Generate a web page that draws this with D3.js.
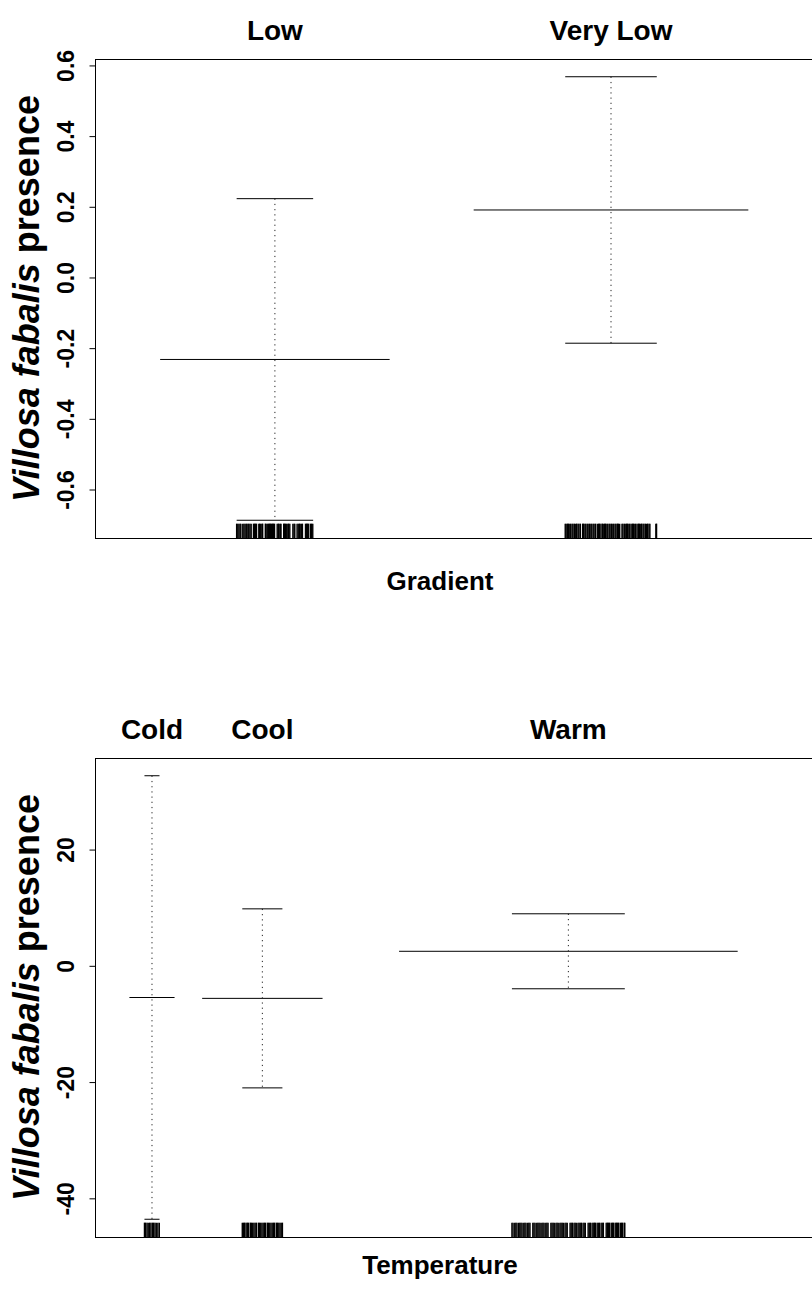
<!DOCTYPE html>
<html>
<head>
<meta charset="utf-8">
<script src="https://cdn.jsdelivr.net/npm/d3@7"></script>
<style>
  html, body { margin: 0; padding: 0; background: #fff; }
  svg { display: block; font-family: "Liberation Sans", Arial, Helvetica, sans-serif; }
</style>
</head>
<body>
<svg id="chart" width="812" height="1293"></svg>
<script>
// ---------- Data ----------
// Panel 1: Gradient
const gradLevels = ["Low", "Very Low"];
const gradCounts = [61, 73];
const gradFit = [-0.232, 0.191];
const gradSE2 = [0.455, 0.377];           // 2 * standard error
const gradTicks = [-0.6, -0.4, -0.2, 0.0, 0.2, 0.4, 0.6];
const gradTickLabels = ["-0.6", "-0.4", "-0.2", "0.0", "0.2", "0.4", "0.6"];
const gradRugLow = [-1.00,-0.97,-0.94,-0.91,-0.89,-0.84,-0.81,-0.78,-0.75,-0.73,-0.70,-0.68,-0.65,-0.62,-0.56,-0.53,-0.51,-0.48,-0.42,-0.40,-0.37,-0.34,-0.32,-0.25,-0.23,-0.20,-0.17,-0.14,-0.12,-0.09,-0.06,-0.04,-0.01,0.06,0.09,0.11,0.14,0.16,0.23,0.25,0.28,0.31,0.34,0.36,0.39,0.47,0.50,0.52,0.58,0.61,0.64,0.66,0.69,0.72,0.80,0.83,0.85,0.88,0.93,0.96,0.99];
const gradRugVeryLow = [-1.00,-0.98,-0.95,-0.93,-0.90,-0.88,-0.85,-0.83,-0.80,-0.77,-0.75,-0.72,-0.70,-0.67,-0.62,-0.60,-0.57,-0.55,-0.52,-0.50,-0.47,-0.44,-0.42,-0.39,-0.37,-0.34,-0.30,-0.27,-0.25,-0.22,-0.19,-0.17,-0.14,-0.12,-0.09,-0.07,-0.04,-0.02,0.01,0.04,0.06,0.09,0.11,0.14,0.16,0.19,0.24,0.26,0.29,0.31,0.34,0.36,0.39,0.41,0.44,0.47,0.49,0.52,0.54,0.57,0.60,0.62,0.65,0.67,0.70,0.72,0.75,0.78,0.80,0.83,0.85,0.98,0.995];

// Panel 2: Temperature
const tempLevels = ["Cold", "Cool", "Warm"];
const tempCounts = [12, 32, 90];
const tempFit = [-5.45, -5.6, 2.5];
const tempSE2 = [38.15, 15.4, 6.45];
const tempTicks = [-40, -20, 0, 20];
const tempTickLabels = ["-40", "-20", "0", "20"];
const tempRugCold = [-1.0,-0.85,-0.66,-0.5,-0.31,-0.14,0.05,0.22,0.4,0.57,0.78,0.97];
const tempRugCool = [-1.0,-0.94,-0.88,-0.81,-0.75,-0.69,-0.6,-0.54,-0.48,-0.42,-0.36,-0.3,-0.2,-0.14,-0.08,-0.02,0.04,0.1,0.16,0.25,0.31,0.37,0.43,0.49,0.55,0.61,0.7,0.76,0.82,0.88,0.94,1.0];
const tempRugWarm = [-1.00,-0.98,-0.95,-0.93,-0.91,-0.88,-0.86,-0.84,-0.82,-0.79,-0.77,-0.75,-0.72,-0.70,-0.68,-0.63,-0.61,-0.59,-0.56,-0.54,-0.52,-0.50,-0.47,-0.45,-0.43,-0.40,-0.38,-0.36,-0.31,-0.29,-0.27,-0.25,-0.22,-0.20,-0.18,-0.15,-0.13,-0.11,-0.09,-0.06,-0.04,-0.02,0.03,0.05,0.07,0.10,0.12,0.14,0.17,0.19,0.21,0.23,0.26,0.28,0.30,0.35,0.37,0.39,0.42,0.44,0.46,0.48,0.51,0.53,0.55,0.58,0.60,0.62,0.67,0.69,0.71,0.73,0.76,0.78,0.80,0.83,0.85,0.87,0.89,0.92,0.94,0.96,0.99,1.00];

const yTitleItalic = "Villosa fabalis";
const yTitleRest = " presence";

// ---------- Drawing ----------
const svg = d3.select("#chart");

function panel(opt) {
  const { levels, counts, fit, se2, ticks, tickLabels, rugs, xlab, top, bottom, xlabGap } = opt;
  const left = 95, right = 821;
  const N = d3.sum(counts);
  const x = d3.scaleLinear().domain([-0.04 * N, 1.04 * N]).range([left, right]);
  const lo = d3.min(fit.map((f, i) => f - se2[i]));
  const hi = d3.max(fit.map((f, i) => f + se2[i]));
  const pad = (hi - lo) * 0.04;
  const y = d3.scaleLinear().domain([lo - pad, hi + pad]).range([bottom, top]);

  const rightx = d3.cumsum(counts);
  const leftx = counts.map((c, i) => rightx[i] - c);
  const ux = counts.map((c, i) => (leftx[i] + rightx[i]) / 2);

  const g = svg.append("g");

  // box
  g.append("rect")
    .attr("x", left + 0.5).attr("y", top + 0.5)
    .attr("width", right - left).attr("height", bottom - top)
    .attr("fill", "none").attr("stroke", "#000").attr("stroke-width", 1);

  // y axis
  const axis = d3.axisLeft(y).tickValues(ticks).tickFormat((d, i) => tickLabels[i]).tickSize(6).tickSizeOuter(0);
  const ag = g.append("g").attr("transform", `translate(${left + 0.5},0)`).call(axis);
  ag.select(".domain").attr("stroke", "#000")
    .attr("d", `M0,${y(ticks[0])}V${y(ticks[ticks.length - 1])}`);
  ag.selectAll(".tick line").attr("stroke", "#000");
  ag.selectAll(".tick text")
    .attr("x", null).attr("dy", null)
    .attr("transform", "translate(-22,0) rotate(-90)")
    .attr("text-anchor", "middle")
    .attr("font-size", 23).attr("font-weight", "bold").attr("fill", "#000");

  levels.forEach((lev, i) => {
    const cx = x(ux[i]);
    // fitted level line
    g.append("line")
      .attr("x1", x(ux[i] - 0.375 * counts[i])).attr("x2", x(ux[i] + 0.375 * counts[i]))
      .attr("y1", y(fit[i])).attr("y2", y(fit[i]))
      .attr("stroke", "#000").attr("stroke-width", 1);
    // se bar dotted
    g.append("line")
      .attr("x1", cx).attr("x2", cx)
      .attr("y1", y(fit[i] + se2[i])).attr("y2", y(fit[i] - se2[i]))
      .attr("stroke", "#222").attr("stroke-width", 1).attr("stroke-dasharray", "1.2,4");
    // caps
    [fit[i] + se2[i], fit[i] - se2[i]].forEach(v => {
      g.append("line")
        .attr("x1", x(ux[i] - 0.125 * counts[i])).attr("x2", x(ux[i] + 0.125 * counts[i]))
        .attr("y1", y(v)).attr("y2", y(v))
        .attr("stroke", "#000").attr("stroke-width", 1);
    });
    // rug
    g.append("g").selectAll("line").data(rugs[i]).join("line")
      .attr("x1", d => x(ux[i] + d * 0.125 * counts[i]))
      .attr("x2", d => x(ux[i] + d * 0.125 * counts[i]))
      .attr("y1", bottom).attr("y2", bottom - 0.03 * (bottom - top))
      .attr("stroke", "#000").attr("stroke-width", 1.4);
    // level label on top
    g.append("text")
      .attr("x", cx).attr("y", top - 19)
      .attr("text-anchor", "middle")
      .attr("font-size", 28).attr("font-weight", "bold")
      .text(lev);
  });

  // x title
  g.append("text")
    .attr("x", (left + right) / 2 - 18).attr("y", bottom + xlabGap)
    .attr("text-anchor", "middle")
    .attr("font-size", 26).attr("font-weight", "bold")
    .text(xlab);

  // y title
  const yt = g.append("text")
    .attr("transform", `translate(39,${(top + bottom) / 2}) rotate(-90)`)
    .attr("text-anchor", "middle")
    .attr("font-size", 36).attr("font-weight", "bold");
  yt.append("tspan").attr("font-style", "italic").text(yTitleItalic);
  yt.append("tspan").text(yTitleRest);
}

panel({
  levels: gradLevels, counts: gradCounts, fit: gradFit, se2: gradSE2,
  ticks: gradTicks, tickLabels: gradTickLabels,
  rugs: [gradRugLow, gradRugVeryLow], xlab: "Gradient", top: 59, bottom: 538, xlabGap: 52
});
panel({
  levels: tempLevels, counts: tempCounts, fit: tempFit, se2: tempSE2,
  ticks: tempTicks, tickLabels: tempTickLabels,
  rugs: [tempRugCold, tempRugCool, tempRugWarm], xlab: "Temperature", top: 758, bottom: 1237, xlabGap: 37
});
</script>
</body>
</html>
